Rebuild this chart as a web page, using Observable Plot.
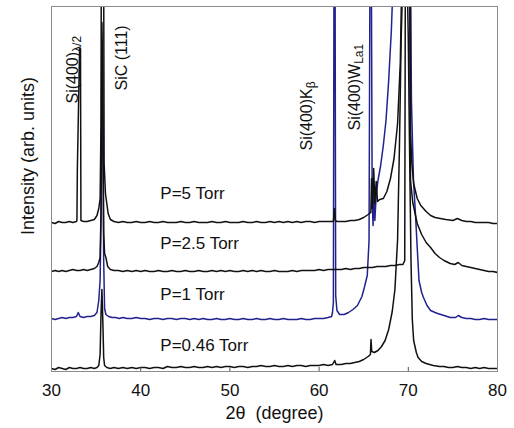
<!DOCTYPE html>
<html><head><meta charset="utf-8">
<script src="https://cdn.jsdelivr.net/npm/d3@7"></script>
<script src="https://cdn.jsdelivr.net/npm/@observablehq/plot@0.6"></script>
<style>body{margin:0;background:#fff;}</style>
</head><body><div id="chart"></div>
<script>
// 2θ axis ticks
const xTicks = [30, 40, 50, 60, 70, 80];
const innerTicks = [40, 50, 60, 70];

// traces: sample pressure, vertical stacking offset (arb. units)
const pressures = ["P=0.46 Torr", "P=1 Torr", "P=2.5 Torr", "P=5 Torr"];
const offsets = [2, 51, 99, 148];
const labelTheta = [42.2, 42.2, 42.2, 42.2];
const labelLevel = [26, 77, 128, 178];

// [2θ, intensity above baseline]
const trace046 = [[30,1],[30.4,0],[30.8,2],[31.2,1],[31.6,0],[32,2],[32.4,1],[32.8,1],[33.2,2],[33.6,1],[34,1],[34.4,2],[34.8,1],[35.1,2],[35.3,4],[35.45,15],[35.55,55],[35.65,80],[35.75,50],[35.85,12],[35.95,4],[36.2,2],[36.6,1],[37,2],[37.5,1],[38,2],[38.5,1],[39,2],[39.5,1],[40,2],[40.5,2],[41,1],[41.5,2],[42,2],[42.5,1],[43,3],[43.5,2],[44,2],[44.5,3],[45,2],[45.5,2],[46,3],[46.5,2],[47,2],[47.5,3],[48,2],[48.5,3],[49,2],[49.5,3],[50,3],[50.5,2],[51,3],[51.5,3],[52,2],[52.5,3],[53,3],[53.5,4],[54,3],[54.5,3],[55,4],[55.5,3],[56,3],[56.5,4],[57,3],[57.5,4],[58,4],[58.5,3],[59,4],[59.5,4],[60,4],[60.5,5],[61,4],[61.5,5],[61.75,9],[61.9,5],[62.5,5],[63,6],[63.5,6],[64,7],[64.5,8],[65,10],[65.5,13],[65.75,15],[65.82,30],[65.9,18],[66.2,17],[66.6,19],[67,23],[67.4,29],[67.8,40],[68.2,58],[68.5,80],[68.8,130],[69,220],[69.2,330],[69.5,430],[69.8,430],[70,330],[70.1,250],[70.3,110],[70.45,50],[70.6,29],[70.9,17],[71.1,12],[71.5,8],[72,6],[72.8,4],[73.5,3],[74,3],[74.5,2],[75,2],[75.5,3],[76,2],[76.5,2],[77,1],[77.5,2],[78,1],[78.5,2],[79,1],[79.5,1],[80,1]];

const trace1 = [[30,2],[30.4,1],[30.8,2],[31.2,3],[31.6,2],[32,3],[32.4,3],[32.8,4],[33,8],[33.2,4],[33.6,3],[34,4],[34.4,4],[34.8,5],[35.1,8],[35.3,20],[35.45,40],[35.55,100],[35.65,210],[35.75,200],[35.85,60],[35.95,12],[36.1,6],[36.4,4],[36.8,3],[37.2,3],[37.6,2],[38,3],[38.5,2],[39,2],[39.5,3],[40,2],[40.5,2],[41,1],[41.5,2],[42,2],[42.5,1],[43,2],[43.5,2],[44,1],[44.5,2],[45,2],[45.5,1],[46,2],[46.5,1],[47,2],[47.5,1],[48,1],[48.5,2],[49,1],[49.5,1],[50,2],[50.5,1],[51,1],[51.5,2],[52,1],[52.5,1],[53,2],[53.5,1],[54,1],[54.5,2],[55,1],[55.5,1],[56,2],[56.5,1],[57,1],[57.5,1],[58,2],[58.5,1],[59,1],[59.5,2],[60,2],[60.5,2],[61,3],[61.4,4],[61.5,8],[61.6,18],[61.68,400],[61.78,400],[61.86,25],[62,10],[62.3,6],[62.8,6],[63.3,8],[63.8,11],[64.3,15],[64.8,24],[65.1,34],[65.4,45],[65.6,80],[65.72,400],[65.84,400],[65.95,120],[66.05,95],[66.15,135],[66.25,100],[66.4,125],[66.6,140],[66.9,155],[67.2,175],[67.5,200],[67.8,240],[68.1,290],[68.3,340],[68.6,440],[69.5,480],[70.2,440],[70.35,220],[70.58,140],[70.8,107],[71,73],[71.2,40],[71.5,28],[71.7,23],[72.1,15],[72.5,10],[73,8],[73.3,7],[74,5],[74.7,3],[75.3,3],[75.6,5],[76,3],[76.5,2],[77,2],[77.5,1],[78,1],[78.5,2],[79,1],[79.5,1],[80,1]];

const trace25 = [[30,1],[30.4,2],[30.8,1],[31.2,2],[31.6,1],[32,2],[32.4,3],[32.8,2],[33.2,2],[33.6,3],[34,2],[34.4,3],[34.8,4],[35.1,6],[35.3,10],[35.45,15],[35.55,60],[35.65,250],[35.75,200],[35.85,40],[35.95,19],[36.1,15],[36.3,6],[36.6,3],[37,2],[37.5,2],[38,1],[38.5,2],[39,1],[39.5,2],[40,1],[40.5,2],[41,1],[41.5,1],[42,2],[42.5,1],[43,1],[43.5,2],[44,1],[44.5,1],[45,2],[45.5,1],[46,1],[46.5,2],[47,1],[47.5,1],[48,2],[48.5,1],[49,2],[49.5,1],[50,2],[50.5,1],[51,1],[51.5,2],[52,1],[52.5,2],[53,1],[53.5,2],[54,1],[54.5,1],[55,2],[55.5,1],[56,1],[56.5,1],[57,2],[57.5,1],[58,2],[58.5,2],[59,2],[59.5,2],[60,3],[60.5,2],[61,3],[61.5,3],[62,3],[62.5,3],[63,4],[63.5,3],[64,4],[64.5,4],[65,5],[65.5,5],[66,5],[66.5,6],[67,6],[67.5,6],[68,7],[68.5,7],[69,8],[69.4,8],[69.6,12],[69.7,430],[70.1,430],[70.25,92],[70.5,70],[71,49],[71.5,38],[72,30],[72.5,25],[73,19],[73.5,15],[74,12],[74.7,9],[75.2,8],[75.6,10],[76,7],[76.5,6],[77,5],[77.5,4],[78,3],[78.5,2],[79,1],[79.5,1],[80,0]];

const trace5 = [[30,1],[30.4,0],[30.8,2],[31.2,1],[31.6,1],[32,2],[32.4,1],[32.8,2],[32.85,3],[32.9,55],[33.15,175],[33.25,175],[33.3,3],[33.6,2],[34,2],[34.4,3],[34.8,4],[35.1,8],[35.3,15],[35.45,25],[35.55,100],[35.62,440],[35.8,440],[35.9,60],[36.05,30],[36.2,20],[36.35,10],[36.6,4],[37,2],[37.5,1],[38,2],[38.5,1],[39,1],[39.5,2],[40,1],[40.5,1],[41,2],[41.5,1],[42,1],[42.5,2],[43,1],[43.5,1],[44,1],[44.5,2],[45,1],[45.5,1],[46,2],[46.5,1],[47,1],[47.5,1],[48,2],[48.5,1],[49,1],[49.5,2],[50,1],[50.5,1],[51,1],[51.5,2],[52,1],[52.5,1],[53,2],[53.5,1],[54,1],[54.5,2],[55,1],[55.5,2],[56,1],[56.5,2],[57,1],[57.5,2],[58,1],[58.5,2],[59,2],[59.5,1],[60,2],[60.5,2],[61,2],[61.6,2],[61.72,15],[61.82,3],[62,2],[62.5,2],[63,2],[63.5,3],[64,3],[64.5,4],[65,6],[65.5,9],[65.8,11],[65.88,45],[65.97,15],[66.12,55],[66.25,20],[66.4,42],[66.55,22],[66.8,24],[67.2,25],[67.6,32],[68,45],[68.4,65],[68.8,100],[69.1,160],[69.3,260],[69.45,440],[70.1,440],[70.25,90],[70.4,60],[70.6,40],[71,25],[71.4,18],[72,12],[72.5,8],[73,6],[73.6,5],[74.2,4],[75,3],[75.5,5],[76,3],[76.5,2],[77,2],[77.5,1],[78,1],[78.5,1],[79,1],[79.5,0],[80,0]];

const traces = [trace046, trace1, trace25, trace5];

// peak annotations: main text, subscript, 2θ position, lower end level
const peakMain = ["Si(400)", "SiC (111)", "Si(400)K", "Si(400)W"];
const peakSub = ["λ/2", "", "β", "La1"];
const peakTheta = [32.35, 37.85, 58.6, 63.97];
const peakLevel = [268, 281, 221, 241];

const traceColor = ["#111", "#22228e", "#111", "#111"];
const rows = traces.flatMap((t, i) => t.map(([x, v]) => ({x, y: v + offsets[i], s: i})));
const labelRows = pressures.map((p, i) => ({text: p, x: labelTheta[i], y: labelLevel[i]}));
const peakRows = peakMain.map((m, i) => ({text: m + peakSub[i], main: m, sub: peakSub[i], x: peakTheta[i], y: peakLevel[i]}));

const font = "'Liberation Sans', Arial, sans-serif";
const chart = Plot.plot({
  width: 514, height: 428,
  marginLeft: 51, marginRight: 17, marginTop: 6, marginBottom: 57,
  style: {fontFamily: font, background: "#fff", color: "#111"},
  x: {domain: [30, 80], label: null},
  y: {domain: [0, 365], axis: null},
  marks: [
    ...[0, 1, 2, 3].map(i => Plot.line(rows.filter(d => d.s === i), {x: "x", y: "y", stroke: traceColor[i], strokeWidth: 1.5, clip: true})),
    Plot.frame({stroke: "#8c8c8c", strokeWidth: 1}),
    Plot.axisX(xTicks, {tickSize: 0, tickPadding: 12, fontSize: 17, label: null}),
    Plot.axisX(innerTicks, {tickSize: 4, dy: -4, tickFormat: () => "", label: null, stroke: "#555"}),
    Plot.text(labelRows, {x: "x", y: "y", text: "text", textAnchor: "start", fontSize: 17, fill: "#111"}),
    Plot.text(peakRows, {x: "x", y: "y", text: "text", rotate: -90, textAnchor: "start", lineAnchor: "middle", fontSize: 16, fill: "#111"}),
    Plot.text(["Intensity (arb. units)"], {frameAnchor: "left", textAnchor: "middle", lineAnchor: "middle", rotate: -90, dx: -23, dy: -33, fontSize: 18, fill: "#111"}),
    Plot.text(["2θ  (degree)"], {frameAnchor: "bottom", dy: 42, lineAnchor: "middle", fontSize: 18, fill: "#111"})
  ]
});
document.getElementById("chart").appendChild(chart);

// render subscripts as real tspans
chart.querySelectorAll("text").forEach(t => {
  const r = peakRows.find(p => p.sub && t.textContent === p.text);
  if (!r) return;
  t.textContent = "";
  const ns = "http://www.w3.org/2000/svg";
  const a = document.createElementNS(ns, "tspan"); a.textContent = r.main; t.appendChild(a);
  const b = document.createElementNS(ns, "tspan"); b.textContent = r.sub;
  b.setAttribute("font-size", "12"); b.setAttribute("dy", "0.3em"); t.appendChild(b);
});
</script></body></html>
